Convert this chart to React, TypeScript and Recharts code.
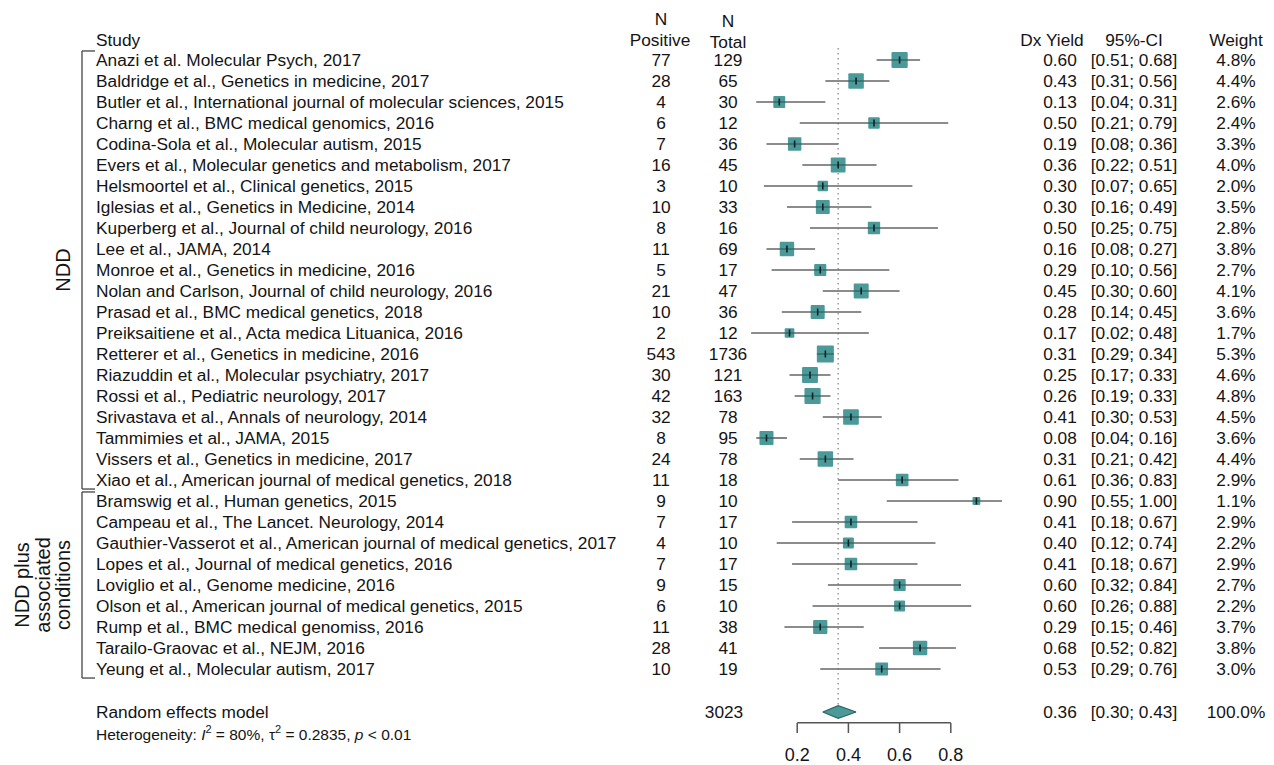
import React from 'react';
import { ComposedChart, Scatter, XAxis, YAxis, ErrorBar, ReferenceLine, Area } from 'recharts';

// ---------- data ----------
const studyNames = [
  'Anazi et al. Molecular Psych, 2017',
  'Baldridge et al., Genetics in medicine, 2017',
  'Butler et al., International journal of molecular sciences, 2015',
  'Charng et al., BMC medical genomics, 2016',
  'Codina-Sola et al., Molecular autism, 2015',
  'Evers et al., Molecular genetics and metabolism, 2017',
  'Helsmoortel et al., Clinical genetics, 2015',
  'Iglesias et al., Genetics in Medicine, 2014',
  'Kuperberg et al., Journal of child neurology, 2016',
  'Lee et al., JAMA, 2014',
  'Monroe et al., Genetics in medicine, 2016',
  'Nolan and Carlson, Journal of child neurology, 2016',
  'Prasad et al., BMC medical genetics, 2018',
  'Preiksaitiene et al., Acta medica Lituanica, 2016',
  'Retterer et al., Genetics in medicine, 2016',
  'Riazuddin et al., Molecular psychiatry, 2017',
  'Rossi et al., Pediatric neurology, 2017',
  'Srivastava et al., Annals of neurology, 2014',
  'Tammimies et al., JAMA, 2015',
  'Vissers et al., Genetics in medicine, 2017',
  'Xiao et al., American journal of medical genetics, 2018',
  'Bramswig et al., Human genetics, 2015',
  'Campeau et al., The Lancet. Neurology, 2014',
  'Gauthier-Vasserot et al., American journal of medical genetics, 2017',
  'Lopes et al., Journal of medical genetics, 2016',
  'Loviglio et al., Genome medicine, 2016',
  'Olson et al., American journal of medical genetics, 2015',
  'Rump et al., BMC medical genomiss, 2016',
  'Tarailo-Graovac et al., NEJM, 2016',
  'Yeung et al., Molecular autism, 2017',
];
const nPositive = [77, 28, 4, 6, 7, 16, 3, 10, 8, 11, 5, 21, 10, 2, 543, 30, 42, 32, 8, 24, 11, 9, 7, 4, 7, 9, 6, 11, 28, 10];
const nTotal = [129, 65, 30, 12, 36, 45, 10, 33, 16, 69, 17, 47, 36, 12, 1736, 121, 163, 78, 95, 78, 18, 10, 17, 10, 17, 15, 10, 38, 41, 19];
const dxYield = [0.60, 0.43, 0.13, 0.50, 0.19, 0.36, 0.30, 0.30, 0.50, 0.16, 0.29, 0.45, 0.28, 0.17, 0.31, 0.25, 0.26, 0.41, 0.08, 0.31, 0.61, 0.90, 0.41, 0.40, 0.41, 0.60, 0.60, 0.29, 0.68, 0.53];
const ciLower = [0.51, 0.31, 0.04, 0.21, 0.08, 0.22, 0.07, 0.16, 0.25, 0.08, 0.10, 0.30, 0.14, 0.02, 0.29, 0.17, 0.19, 0.30, 0.04, 0.21, 0.36, 0.55, 0.18, 0.12, 0.18, 0.32, 0.26, 0.15, 0.52, 0.29];
const ciUpper = [0.68, 0.56, 0.31, 0.79, 0.36, 0.51, 0.65, 0.49, 0.75, 0.27, 0.56, 0.60, 0.45, 0.48, 0.34, 0.33, 0.33, 0.53, 0.16, 0.42, 0.83, 1.00, 0.67, 0.74, 0.67, 0.84, 0.88, 0.46, 0.82, 0.76];
const weights = [4.8, 4.4, 2.6, 2.4, 3.3, 4.0, 2.0, 3.5, 2.8, 3.8, 2.7, 4.1, 3.6, 1.7, 5.3, 4.6, 4.8, 4.5, 3.6, 4.4, 2.9, 1.1, 2.9, 2.2, 2.9, 2.7, 2.2, 3.7, 3.8, 3.0];

const groupLabels = [['NDD'], ['NDD plus', 'associated', 'conditions']];
const groupFirst = [0, 21];
const groupLast = [20, 29];

const pooledLabel = 'Random effects model';
const pooledTotal = 3023;
const pooledYield = 0.36;
const pooledLower = 0.30;
const pooledUpper = 0.43;
const pooledWeight = 100.0;
const hetI2 = '80%';
const hetTau2 = '0.2835';
const hetP = '< 0.01';

const xTicks = [0.2, 0.4, 0.6, 0.8];

// ---------- layout ----------
const W = 1274;
const H = 765;
const AXIS_H = 42;
const PLOT_H = H - AXIS_H;
const ROW0_PX = 60;
const ROW_PX = 21;
const X0_PX = 746;
const UNIT_PX = 256;
const X_DOMAIN: [number, number] = [-X0_PX / UNIT_PX, (W - X0_PX) / UNIT_PX];
const Y_DOMAIN: [number, number] = [-ROW0_PX / ROW_PX, (PLOT_H - ROW0_PX) / ROW_PX];
const pxToX = (px: number) => (px - X0_PX) / UNIT_PX;

const HEADER_ROW = -0.952;
const POOLED_ROW = 31.05;
const AXIS_ROW = Y_DOMAIN[1] - 0.015;

const FONT = '"Liberation Sans", Arial, Helvetica, sans-serif';
const FS = 17.3;
const BASE = 6.4;
const TEXT_COLOR = '#141414';
const TEAL = '#4b9999';

const STUDY_X = 96;
const NPOS_X = 661;
const NTOT_X = 728;
const YIELD_X = 1060;
const YIELD_HEAD_X = 1052;
const CI_X = 1134;
const W_X = 1236;

const rows = studyNames.map((name, i) => ({
  x: dxYield[i],
  y: i,
  name,
  pos: nPositive[i],
  tot: nTotal[i],
  lo: ciLower[i],
  hi: ciUpper[i],
  w: weights[i],
  ex: [dxYield[i] - ciLower[i], ciUpper[i] - dxYield[i]],
}));

const headerData = [{ x: 0, y: HEADER_ROW }];
const pooledData = [{ x: pooledYield, y: POOLED_ROW }];
const groupData = groupLabels.map((lines, i) => ({
  x: 0,
  y: (groupFirst[i] + groupLast[i]) / 2,
  lines,
}));
const DIAMOND_HALF = 0.3;
const diamondData = [
  { x: pooledLower, r: [POOLED_ROW, POOLED_ROW] },
  { x: pooledYield, r: [POOLED_ROW - DIAMOND_HALF, POOLED_ROW + DIAMOND_HALF] },
  { x: pooledUpper, r: [POOLED_ROW, POOLED_ROW] },
];

const fmt2 = (v: number) => v.toFixed(2);
const ciText = (lo: number, hi: number) => `[${fmt2(lo)}; ${fmt2(hi)}]`;

// ---------- shapes ----------
const SquareShape = (props: any) => {
  const { cx, cy, payload } = props;
  if (cx == null || cy == null) return <g />;
  const s = 7.4 * Math.sqrt(payload.w);
  return (
    <g>
      <rect x={cx - s / 2} y={cy - s / 2} width={s} height={s} fill={TEAL} rx={1} />
      <line x1={cx - s / 2} x2={cx + s / 2} y1={cy} y2={cy} stroke="#2c5e5e" strokeWidth={1.2} />
      <line x1={cx} x2={cx} y1={cy - 3.5} y2={cy + 3.5} stroke="#0e2222" strokeWidth={1.6} />
    </g>
  );
};

const RowTextShape = (props: any) => {
  const { cy, payload } = props;
  if (cy == null) return <g />;
  const by = cy + BASE;
  return (
    <g fontFamily={FONT} fontSize={FS} fill={TEXT_COLOR}>
      <text x={STUDY_X} y={by}>{payload.name}</text>
      <text x={NPOS_X} y={by} textAnchor="middle">{payload.pos}</text>
      <text x={NTOT_X} y={by} textAnchor="middle">{payload.tot}</text>
      <text x={YIELD_X} y={by} textAnchor="middle">{fmt2(payload.x)}</text>
      <text x={CI_X} y={by} textAnchor="middle">{ciText(payload.lo, payload.hi)}</text>
      <text x={W_X} y={by} textAnchor="middle">{payload.w.toFixed(1)}%</text>
    </g>
  );
};

const HeaderShape = (props: any) => {
  const { cy } = props;
  if (cy == null) return <g />;
  const by = cy + BASE;
  return (
    <g fontFamily={FONT} fontSize={FS} fill={TEXT_COLOR}>
      <text x={STUDY_X} y={by}>Study</text>
      <text x={NPOS_X} y={by - ROW_PX} textAnchor="middle">N</text>
      <text x={NPOS_X - 1} y={by} textAnchor="middle">Positive</text>
      <text x={NTOT_X} y={by - ROW_PX + 2} textAnchor="middle">N</text>
      <text x={NTOT_X} y={by + 2} textAnchor="middle">Total</text>
      <text x={YIELD_HEAD_X} y={by} textAnchor="middle">Dx Yield</text>
      <text x={CI_X} y={by} textAnchor="middle">95%-CI</text>
      <text x={W_X} y={by} textAnchor="middle">Weight</text>
    </g>
  );
};

const PooledTextShape = (props: any) => {
  const { cy } = props;
  if (cy == null) return <g />;
  const by = cy + BASE;
  const hy = cy + 28;
  return (
    <g fontFamily={FONT} fill={TEXT_COLOR}>
      <g fontSize={FS}>
        <text x={STUDY_X} y={by}>{pooledLabel}</text>
        <text x={NTOT_X - 4} y={by} textAnchor="middle">{pooledTotal}</text>
        <text x={YIELD_X} y={by} textAnchor="middle">{fmt2(pooledYield)}</text>
        <text x={CI_X} y={by} textAnchor="middle">{ciText(pooledLower, pooledUpper)}</text>
        <text x={W_X} y={by} textAnchor="middle">{pooledWeight.toFixed(1)}%</text>
      </g>
      <text x={STUDY_X} y={hy} fontSize={15.5}>
        Heterogeneity: <tspan fontStyle="italic">I</tspan>
        <tspan dy={-7} fontSize={11}>2</tspan>
        <tspan dy={7}> = {hetI2}, τ</tspan>
        <tspan dy={-7} fontSize={11}>2</tspan>
        <tspan dy={7}> = {hetTau2}, </tspan>
        <tspan fontStyle="italic">p</tspan>
        <tspan> {hetP}</tspan>
      </text>
    </g>
  );
};

const GroupLabelShape = (props: any) => {
  const { cy, payload } = props;
  if (cy == null) return <g />;
  const lines: string[] = payload.lines;
  const lastX = 63;
  const gap = 20.5;
  return (
    <g fontFamily={FONT} fontSize={20} fill={TEXT_COLOR}>
      {lines.map((t, k) => {
        const x = lastX - gap * (lines.length - 1 - k);
        return (
          <text
            key={k}
            x={x}
            y={cy}
            textAnchor="middle"
            dominantBaseline="central"
            transform={`rotate(-90, ${x}, ${cy})`}
          >
            {t}
          </text>
        );
      })}
    </g>
  );
};

const EmptyShape = () => <g />;

const BRACKET_X = pxToX(82);
const BRACKET_END = pxToX(95);

export default function App() {
  return (
    <div style={{ position: 'absolute', left: 0, top: 0, width: W, height: H, background: '#fff' }}>
      <ComposedChart width={W} height={H} margin={{ top: 0, right: 0, bottom: 0, left: 0 }}>
        <XAxis
          type="number"
          dataKey="x"
          domain={X_DOMAIN}
          ticks={xTicks}
          interval={0}
          axisLine={false}
          tickLine={{ stroke: '#555', strokeWidth: 1.5 }}
          tickSize={10}
          tickMargin={15}
          tick={{ fontSize: 18, fill: TEXT_COLOR, fontFamily: FONT }}
          height={AXIS_H}
        />
        <YAxis type="number" dataKey="y" domain={Y_DOMAIN} reversed hide />

        {/* dotted line at pooled estimate */}
        <ReferenceLine
          segment={[{ x: pooledYield, y: -0.57 }, { x: pooledYield, y: POOLED_ROW - 0.35 }]}
          stroke="#8a8a8a"
          strokeWidth={1.3}
          strokeDasharray="1.5 3.5"
        />

        {/* axis line */}
        <ReferenceLine
          segment={[{ x: xTicks[0], y: AXIS_ROW }, { x: xTicks[xTicks.length - 1], y: AXIS_ROW }]}
          stroke="#555"
          strokeWidth={1.5}
        />

        {/* group brackets */}
        {groupFirst.map((f, i) => (
          <ReferenceLine
            key={`bv${i}`}
            segment={[{ x: BRACKET_X, y: f - 0.43 }, { x: BRACKET_X, y: groupLast[i] + 0.43 }]}
            stroke="#444"
            strokeWidth={1.3}
          />
        ))}
        {groupFirst.map((f, i) => (
          <ReferenceLine
            key={`bt${i}`}
            segment={[{ x: BRACKET_X, y: f - 0.43 }, { x: BRACKET_END, y: f - 0.43 }]}
            stroke="#444"
            strokeWidth={1.3}
          />
        ))}
        {groupFirst.map((f, i) => (
          <ReferenceLine
            key={`bb${i}`}
            segment={[{ x: BRACKET_X, y: groupLast[i] + 0.43 }, { x: BRACKET_END, y: groupLast[i] + 0.43 }]}
            stroke="#444"
            strokeWidth={1.3}
          />
        ))}

        {/* confidence intervals */}
        <Scatter data={rows} shape={EmptyShape} isAnimationActive={false}>
          <ErrorBar dataKey="ex" direction="x" width={0} stroke="#666" strokeWidth={1.6} />
        </Scatter>

        {/* study squares */}
        <Scatter data={rows} shape={SquareShape} isAnimationActive={false} />

        {/* pooled diamond */}
        <Area
          data={diamondData}
          dataKey="r"
          type="linear"
          fill={TEAL}
          fillOpacity={1}
          stroke="#2b6464"
          strokeWidth={1.2}
          dot={false}
          activeDot={false}
          isAnimationActive={false}
        />

        {/* table text */}
        <Scatter data={rows} shape={RowTextShape} isAnimationActive={false} />
        <Scatter data={headerData} shape={HeaderShape} isAnimationActive={false} />
        <Scatter data={pooledData} shape={PooledTextShape} isAnimationActive={false} />
        <Scatter data={groupData} shape={GroupLabelShape} isAnimationActive={false} />
      </ComposedChart>
    </div>
  );
}
